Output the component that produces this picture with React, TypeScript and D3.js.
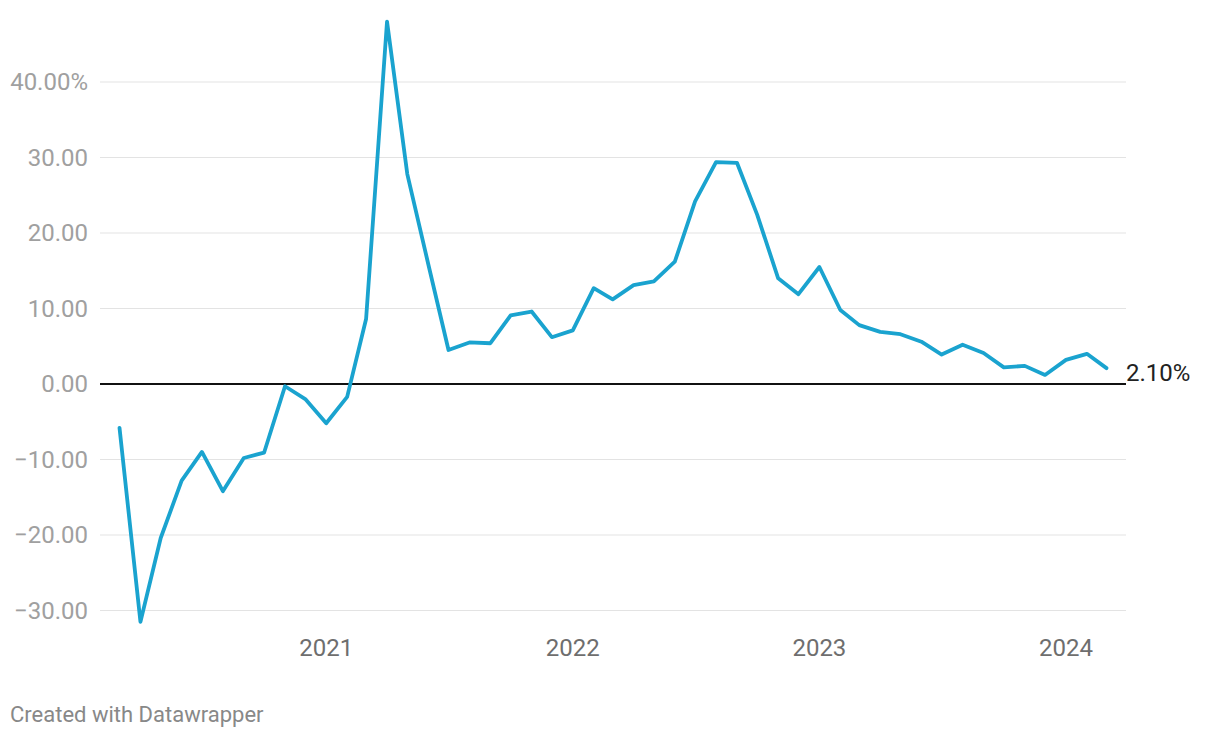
import React, { useEffect, useRef } from "react";
import * as d3 from "d3";

// monthly values, Mar 2020 .. Mar 2024
const months = [
  "2020-03", "2020-04", "2020-05", "2020-06", "2020-07", "2020-08", "2020-09", "2020-10", "2020-11", "2020-12",
  "2021-01", "2021-02", "2021-03", "2021-04", "2021-05", "2021-06", "2021-07", "2021-08", "2021-09", "2021-10", "2021-11", "2021-12",
  "2022-01", "2022-02", "2022-03", "2022-04", "2022-05", "2022-06", "2022-07", "2022-08", "2022-09", "2022-10", "2022-11", "2022-12",
  "2023-01", "2023-02", "2023-03", "2023-04", "2023-05", "2023-06", "2023-07", "2023-08", "2023-09", "2023-10", "2023-11", "2023-12",
  "2024-01", "2024-02", "2024-03"
];
const values = [
  -5.8, -31.5, -20.4, -12.8, -9.0, -14.2, -9.8, -9.1, -0.3, -2.0,
  -5.2, -1.7, 8.6, 48.0, 27.8, 15.9, 4.5, 5.5, 5.4, 9.1, 9.6, 6.2,
  7.1, 12.7, 11.2, 13.1, 13.6, 16.2, 24.2, 29.4, 29.3, 22.4, 14.0, 11.9,
  15.5, 9.8, 7.8, 6.9, 6.6, 5.6, 3.9, 5.2, 4.1, 2.2, 2.4, 1.2,
  3.2, 4.0, 2.1
];
const yTicks = [40, 30, 20, 10, 0, -10, -20, -30];
const xTickYears = ["2021", "2022", "2023", "2024"];
const lastLabel = "2.10%";

const App = () => {
  const ref = useRef<SVGSVGElement>(null);

  useEffect(() => {
    const svg = d3.select(ref.current);
    svg.selectAll("*").remove();
    const font = "Roboto, 'Noto Sans', sans-serif";
    const parse = d3.timeParse("%Y-%m");
    const data = months.map((m, i) => ({ date: parse(m) as Date, value: values[i] }));

    const x = d3
      .scaleTime()
      .domain([parse("2020-03") as Date, parse("2024-03") as Date])
      .range([119.5, 1106.5]);
    const y = d3.scaleLinear().domain([0, 40]).range([384, 82]);
    const left = 100,
      right = 1126;

    // gridlines
    svg
      .selectAll(".grid")
      .data(yTicks.filter(d => d !== 0))
      .enter()
      .append("line")
      .attr("x1", left)
      .attr("x2", right)
      .attr("y1", d => y(d))
      .attr("y2", d => y(d))
      .attr("stroke", "#e3e3e3")
      .attr("stroke-width", 1.2);

    svg
      .selectAll(".ylab")
      .data(yTicks)
      .enter()
      .append("text")
      .attr("x", 88)
      .attr("y", d => y(d))
      .attr("dy", "0.35em")
      .attr("text-anchor", "end")
      .attr("font-family", font)
      .attr("font-size", 24)
      .attr("fill", "#a0a0a0")
      .text(d => {
        const s = d3.format(".2f")(Math.abs(d));
        const t = (d < 0 ? "\u2212" : "") + s;
        return d === 40 ? t + "%" : t;
      });

    svg
      .selectAll(".xlab")
      .data(xTickYears)
      .enter()
      .append("text")
      .attr("x", d => x(parse(d + "-01") as Date))
      .attr("y", 656)
      .attr("text-anchor", "middle")
      .attr("font-family", font)
      .attr("font-size", 24)
      .attr("fill", "#6e6e6e")
      .text(d => d);

    // zero line
    svg
      .append("line")
      .attr("x1", left)
      .attr("x2", right)
      .attr("y1", y(0))
      .attr("y2", y(0))
      .attr("stroke", "#111")
      .attr("stroke-width", 2);

    const line = d3
      .line<{ date: Date; value: number }>()
      .x(d => x(d.date))
      .y(d => y(d.value));

    svg
      .append("path")
      .datum(data)
      .attr("d", line)
      .attr("fill", "none")
      .attr("stroke", "#1aa3cf")
      .attr("stroke-width", 3.8)
      .attr("stroke-linejoin", "round")
      .attr("stroke-linecap", "round");

    svg
      .append("text")
      .attr("x", 1126)
      .attr("y", y(values[values.length - 1]) + 4)
      .attr("dy", "0.35em")
      .attr("font-family", font)
      .attr("font-size", 24)
      .attr("fill", "#222")
      .text(lastLabel);

    svg
      .append("text")
      .attr("x", 10)
      .attr("y", 722)
      .attr("font-family", font)
      .attr("font-size", 22)
      .attr("fill", "#888")
      .text("Created with Datawrapper");
  }, []);

  return (
    <div style={{ position: "absolute", top: 0, left: 0 }}>
      <svg ref={ref} width={1220} height={738} style={{ display: "block", background: "#fff" }} />
    </div>
  );
};

export default App;
